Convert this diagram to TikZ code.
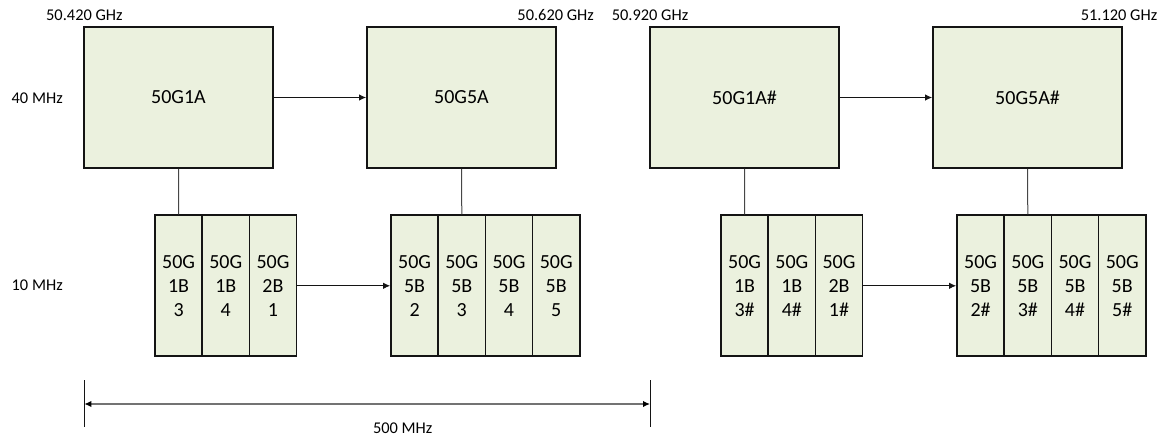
\documentclass[tikz,border=0pt]{standalone}
\usepackage{fontspec}
\setmainfont{Carlito}
\usepackage{xcolor}
\usepackage{tikz}
\usetikzlibrary{arrows.meta,calc}
\definecolor{figline}{RGB}{20,20,20}
\definecolor{boxfill}{RGB}{235,241,222}
\definecolor{linkgray}{RGB}{70,70,70}
\definecolor{dimgray}{RGB}{115,115,115}
\tikzset{
  bigbox/.style ={draw=figline, fill=boxfill, line width=0.85pt, inner sep=0pt,
                  minimum width=94.5pt, minimum height=70.5pt, font=\fontsize{10}{12}\selectfont},
  cellbox/.style={draw=figline, fill=boxfill, line width=0.85pt, inner sep=0pt, align=center,
                  minimum width=23.6pt, minimum height=70.5pt, font=\fontsize{10}{12}\selectfont},
  lab/.style    ={font=\fontsize{8.2}{10}\selectfont, inner sep=1pt},
  link/.style   ={draw=linkgray, line width=0.5pt},
  arr/.style    ={draw=figline, line width=0.5pt, -{Latex[length=3.5pt,width=3.2pt]}},
  dimline/.style={draw=dimgray, line width=0.65pt,
                  {Latex[length=3.5pt,width=3.2pt,color=black]}-{Latex[length=3.5pt,width=3.2pt,color=black]}},
}

\begin{document}
\begin{tikzpicture}[x=0.5pt,y=-0.5pt]
  \useasboundingbox (0,0) rectangle (1167,439);
  % 40 MHz row
  \node[bigbox] (a1)  at (178.5,97.5)  {50G1A};
  \node[bigbox] (a5)  at (461.5,97.5)  {50G5A};
  \node[bigbox] (a1h) at (744.5,97.5)  {50G1A\#};
  \node[bigbox] (a5h) at (1027.5,97.5) {50G5A\#};
  % 10 MHz row
  \node[cellbox] (b13) at (178.6,285.8) {50G\\1B\\3};
  \node[cellbox] (b14) at (225.8,285.8) {50G\\1B\\4};
  \node[cellbox] (b21) at (273.0,285.8) {50G\\2B\\1};
  \node[cellbox] (b52) at (414.6,285.8) {50G\\5B\\2};
  \node[cellbox] (b53) at (461.8,285.8) {50G\\5B\\3};
  \node[cellbox] (b54) at (509.0,285.8) {50G\\5B\\4};
  \node[cellbox] (b55) at (556.2,285.8) {50G\\5B\\5};
  \node[cellbox] (b13h) at (744.6,285.8)  {50G\\1B\\3\#};
  \node[cellbox] (b14h) at (791.8,285.8)  {50G\\1B\\4\#};
  \node[cellbox] (b21h) at (839.0,285.8)  {50G\\2B\\1\#};
  \node[cellbox] (b52h) at (980.6,285.8)  {50G\\5B\\2\#};
  \node[cellbox] (b53h) at (1027.8,285.8) {50G\\5B\\3\#};
  \node[cellbox] (b54h) at (1075.0,285.8) {50G\\5B\\4\#};
  \node[cellbox] (b55h) at (1122.2,285.8) {50G\\5B\\5\#};
  % links
  \draw[link] (a1.south)  -- (b13.north);
  \draw[link] (a5.south)  -- (b53.north);
  \draw[link] (a1h.south) -- (b13h.north);
  \draw[link] (a5h.south) -- (b53h.north);
  \draw[arr] (a1.east)   -- (a5.west);
  \draw[arr] (a1h.east)  -- (a5h.west);
  \draw[arr] (b21.east)  -- (b52.west);
  \draw[arr] (b21h.east) -- (b52h.west);
  % labels
  \node[lab] (f1) at (84.4,15)   {50.420 GHz};
  \node[lab] (f2) at (555.7,15)  {50.620 GHz};
  \node[lab] (f3) at (650,15)    {50.920 GHz};
  \node[lab] (f4) at (1119,15)   {51.120 GHz};
  \node[lab] (w40) at (37.2,98)  {40 MHz};
  \node[lab] (w10) at (37.2,285.5) {10 MHz};
  % span
  \coordinate (dl) at (84.3,404);
  \coordinate (dr) at (650,404);
  \draw[link, draw=figline] (84.3,380) -- (84.3,427.3);
  \draw[link, draw=figline] (650,380) -- (650,427.3);
  \draw[dimline] (dl) -- (dr);
  \node[lab] (span) at (402.7,428.3) {500 MHz};
\end{tikzpicture}
\end{document}
